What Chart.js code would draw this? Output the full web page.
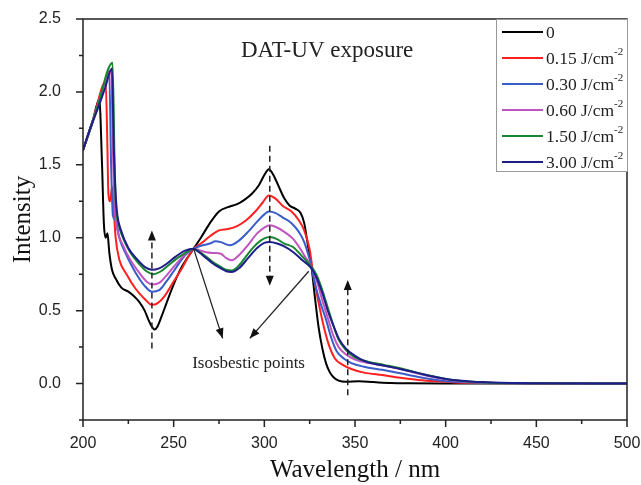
<!DOCTYPE html>
<html>
<head>
<meta charset="utf-8">
<script src="https://cdn.jsdelivr.net/npm/chart.js@4.4.1/dist/chart.umd.min.js"></script>
<style>
  html, body { margin: 0; padding: 0; background: #fff; }
  #wrap { width: 641px; height: 485px; }
</style>
</head>
<body>
<div id="wrap"><canvas id="grafico"></canvas></div>
<script>
const doseLabels = ['0', '0.15 J/cm^-2', '0.30 J/cm^-2', '0.60 J/cm^-2', '1.50 J/cm^-2', '3.00 J/cm^-2'];
const doseColors = ['#000000', '#ff1f1f', '#3a5cc8', '#c055c0', '#17862f', '#1e1e8a'];

const wl0  = [200, 205, 209, 210.5, 211.5, 212.5, 213.5, 214.5, 216, 218, 221, 225, 228, 231, 234, 236, 238, 239.5, 241, 243, 246, 250, 254, 258, 261, 265, 270, 275, 280, 285, 289, 293, 297, 300, 302.5, 305, 308, 311, 314, 317, 320, 322, 324, 326, 328, 330, 332, 334, 336, 338, 341, 345, 352, 360, 370, 380, 400, 500];
const int0 = [1.6, 1.78, 1.95, 1.5, 1.1, 1.0, 1.03, 0.9, 0.78, 0.72, 0.66, 0.63, 0.6, 0.56, 0.5, 0.44, 0.39, 0.37, 0.39, 0.45, 0.55, 0.68, 0.79, 0.87, 0.925, 1.0, 1.1, 1.18, 1.21, 1.23, 1.26, 1.3, 1.36, 1.43, 1.47, 1.43, 1.35, 1.27, 1.22, 1.2, 1.17, 1.1, 0.95, 0.8, 0.58, 0.38, 0.24, 0.14, 0.08, 0.045, 0.02, 0.012, 0.015, 0.01, 0.004, 0.002, 0.001, 0];

const wl1  = [200, 206, 212.5, 213.5, 214, 215, 216, 218, 220, 224, 229, 234, 238, 241, 245, 250, 255, 258.5, 261, 265, 270, 275, 280, 285, 290, 295, 299, 302.5, 306, 310, 315, 319, 322, 325, 327, 330, 333, 336, 339, 343, 348, 355, 365, 375, 385, 395, 405, 420, 450, 500];
const int1 = [1.6, 1.83, 2.07, 1.6, 1.3, 1.25, 1.35, 1.0, 0.85, 0.75, 0.65, 0.58, 0.54, 0.55, 0.6, 0.7, 0.8, 0.88, 0.925, 0.96, 1.01, 1.05, 1.06, 1.08, 1.12, 1.18, 1.24, 1.29, 1.27, 1.22, 1.18, 1.12, 1.05, 0.92, 0.75, 0.55, 0.38, 0.25, 0.17, 0.13, 0.1, 0.075, 0.058, 0.04, 0.025, 0.015, 0.008, 0.004, 0.002, 0];

const wl2  = [200, 208, 214.5, 215.5, 216.5, 218, 220, 224, 229, 234, 238, 242, 246, 250, 255, 258, 261, 265, 270, 273, 276, 281, 286, 291, 296, 300, 302.5, 306, 310, 315, 319, 322, 326, 328, 331, 334, 337, 340, 344, 348, 355, 365, 375, 385, 395, 405, 420, 450, 500];
const int2 = [1.6, 1.9, 2.12, 1.5, 1.15, 1.12, 1.0, 0.88, 0.76, 0.67, 0.63, 0.64, 0.7, 0.77, 0.86, 0.9, 0.925, 0.945, 0.96, 0.975, 0.97, 0.948, 0.98, 1.04, 1.11, 1.16, 1.18, 1.17, 1.14, 1.1, 1.04, 0.97, 0.8, 0.68, 0.55, 0.44, 0.31, 0.22, 0.17, 0.14, 0.115, 0.094, 0.07, 0.045, 0.025, 0.012, 0.005, 0.002, 0];

const wl3  = [200, 208, 215.5, 216.5, 217.5, 219, 222, 226, 231, 235, 238.5, 242, 246, 250, 255, 258, 261, 264, 268, 272, 276, 279, 282, 286, 291, 296, 300, 303, 307, 311, 316, 320, 323, 326, 329, 332, 335, 338, 341, 345, 350, 358, 366, 375, 384, 393, 402, 412, 425, 450, 500];
const int3 = [1.6, 1.9, 2.15, 1.6, 1.2, 1.05, 0.95, 0.85, 0.76, 0.7, 0.68, 0.69, 0.74, 0.8, 0.87, 0.91, 0.925, 0.915, 0.9, 0.895, 0.89, 0.86, 0.845, 0.88, 0.95, 1.03, 1.07, 1.085, 1.07, 1.04, 0.99, 0.92, 0.86, 0.8, 0.7, 0.57, 0.45, 0.33, 0.25, 0.2, 0.165, 0.14, 0.122, 0.1, 0.07, 0.045, 0.025, 0.012, 0.005, 0.002, 0];

const wl4  = [200, 208, 216.3, 217.3, 218, 219.5, 222, 226, 231, 235, 239, 243, 247, 252, 257, 261, 264, 268, 272, 276, 279, 282, 286, 291, 296, 300, 303, 307, 311, 316, 321, 324, 326, 329, 332, 335, 338, 341, 345, 350, 357, 366, 375, 384, 393, 402, 412, 425, 450, 500];
const int4 = [1.6, 1.9, 2.2, 1.6, 1.25, 1.1, 1.0, 0.9, 0.82, 0.77, 0.75, 0.77, 0.81, 0.86, 0.9, 0.925, 0.905, 0.87, 0.83, 0.8, 0.78, 0.775, 0.81, 0.89, 0.96, 0.995, 1.005, 0.99, 0.96, 0.935, 0.87, 0.83, 0.8, 0.74, 0.64, 0.52, 0.4, 0.3, 0.23, 0.18, 0.15, 0.128, 0.105, 0.075, 0.05, 0.028, 0.014, 0.006, 0.002, 0];

const wl5  = [200, 204, 208, 212, 216, 217, 218, 219, 221, 225, 230, 234, 238, 242, 246, 251, 256, 261, 264, 268, 272, 276, 279, 282, 286, 291, 296, 300, 303, 307, 311, 316, 321, 326, 329, 332, 335, 338, 341, 345, 350, 356, 365, 375, 384, 393, 402, 412, 420, 430, 450, 500];
const int5 = [1.6, 1.75, 1.88, 2.02, 2.16, 1.6, 1.3, 1.15, 1.05, 0.93, 0.85, 0.8, 0.78, 0.79, 0.82, 0.87, 0.91, 0.925, 0.9, 0.86, 0.82, 0.79, 0.77, 0.765, 0.79, 0.86, 0.93, 0.965, 0.97, 0.96, 0.94, 0.9, 0.845, 0.79, 0.72, 0.62, 0.5, 0.4, 0.31, 0.24, 0.19, 0.15, 0.125, 0.1, 0.075, 0.048, 0.028, 0.016, 0.01, 0.005, 0.002, 0];

const wavelengths = [wl0, wl1, wl2, wl3, wl4, wl5];
const intensities = [int0, int1, int2, int3, int4, int5];

// Eixos
const xTickLabels = [200, 250, 300, 350, 400, 450, 500];
const yTickLabels = [0.0, 0.5, 1.0, 1.5, 2.0, 2.5];

// Anotações (em unidades dos dados)
const setasTracejadas = [
  { x: 238, de: 0.24, para: 1.05 },
  { x: 303, de: 1.63, para: 0.67 },
  { x: 346, de: -0.08, para: 0.71 }
];
const setasIsosbesticas = [
  { x0: 261, y0: 0.925, x1: 277, y1: 0.31 },
  { x0: 324.5, y0: 0.77, x1: 292, y1: 0.31 }
];
const textoIsosbestico = { x: 291.3, y: 0.137, texto: 'Isosbestic points' };
const tituloInterno = 'DAT-UV exposure';

const datasets = doseLabels.map((rotulo, i) => ({
  label: rotulo,
  data: wavelengths[i].map((w, j) => ({ x: w, y: intensities[i][j] })),
  borderColor: doseColors[i],
  backgroundColor: doseColors[i],
  borderWidth: 2,
  pointRadius: 0,
  cubicInterpolationMode: 'monotone',
  fill: false
})).reverse();

function seta(ctx, x0, y0, x1, y1, tam) {
  const ang = Math.atan2(y1 - y0, x1 - x0);
  ctx.beginPath();
  ctx.moveTo(x1, y1);
  ctx.lineTo(x1 - tam * Math.cos(ang) + tam * 0.4 * Math.sin(ang), y1 - tam * Math.sin(ang) - tam * 0.4 * Math.cos(ang));
  ctx.lineTo(x1 - tam * Math.cos(ang) - tam * 0.4 * Math.sin(ang), y1 - tam * Math.sin(ang) + tam * 0.4 * Math.cos(ang));
  ctx.closePath();
  ctx.fill();
}

const pluginMoldura = {
  id: 'moldura',
  afterDatasetsDraw(chart) {
    const { ctx, chartArea: a, scales: { x, y } } = chart;
    ctx.save();
    ctx.strokeStyle = '#222';
    ctx.fillStyle = '#111';
    ctx.lineWidth = 1.5;
    ctx.strokeRect(a.left, a.top, a.right - a.left, a.bottom - a.top);

    // marcas dos eixos
    ctx.beginPath();
    x.ticks.forEach(t => {
      const px = x.getPixelForValue(t.value);
      const len = xTickLabels.includes(t.value) ? 7 : 4;
      ctx.moveTo(px, a.bottom); ctx.lineTo(px, a.bottom + len);
    });
    y.ticks.forEach(t => {
      const py = y.getPixelForValue(t.value);
      const maior = yTickLabels.some(v => Math.abs(v - t.value) < 1e-6);
      ctx.moveTo(a.left, py); ctx.lineTo(a.left - (maior ? 7 : 4), py);
    });
    ctx.stroke();

    // setas tracejadas
    ctx.lineWidth = 1.5;
    setasTracejadas.forEach(s => {
      const px = x.getPixelForValue(s.x);
      const p0 = y.getPixelForValue(s.de), p1 = y.getPixelForValue(s.para);
      const dir = p1 < p0 ? 1 : -1;
      ctx.setLineDash([6, 4]);
      ctx.beginPath(); ctx.moveTo(px, p0); ctx.lineTo(px, p1 + dir * 8); ctx.stroke();
      ctx.setLineDash([]);
      seta(ctx, px, p0, px, p1, 10);
    });

    // setas dos pontos isosbésticos
    ctx.lineWidth = 1.3;
    setasIsosbesticas.forEach(s => {
      const x0 = x.getPixelForValue(s.x0), y0 = y.getPixelForValue(s.y0);
      const x1 = x.getPixelForValue(s.x1), y1 = y.getPixelForValue(s.y1);
      ctx.beginPath(); ctx.moveTo(x0, y0); ctx.lineTo(x1, y1); ctx.stroke();
      seta(ctx, x0, y0, x1, y1, 10);
    });

    ctx.fillStyle = '#222';
    ctx.textBaseline = 'middle';
    ctx.font = '17px "Liberation Serif"';
    ctx.textAlign = 'center';
    ctx.fillText(textoIsosbestico.texto, x.getPixelForValue(textoIsosbestico.x), y.getPixelForValue(textoIsosbestico.y));

    ctx.font = '23px "Liberation Serif"';
    ctx.textAlign = 'left';
    ctx.fillText(tituloInterno, 241, 51);

    // legenda
    const lx = 496, ly = 19, lw = 132, lh = 153;
    ctx.fillStyle = '#fff';
    ctx.fillRect(lx, ly, lw, lh);
    ctx.strokeStyle = '#999';
    ctx.lineWidth = 1;
    ctx.strokeRect(lx + 0.5, ly + 0.5, lw - 1, lh - 1);
    doseLabels.forEach((rotulo, i) => {
      const cy = ly + 13 + i * 26;
      ctx.strokeStyle = doseColors[i];
      ctx.lineWidth = 2;
      ctx.beginPath(); ctx.moveTo(lx + 6, cy); ctx.lineTo(lx + 47, cy); ctx.stroke();
      const [base, sup] = rotulo.split('^');
      ctx.fillStyle = '#222';
      ctx.font = '17.5px "Liberation Serif"';
      ctx.fillText(base, lx + 50, cy + 1);
      if (sup) {
        const w = ctx.measureText(base).width;
        ctx.font = '11px "Liberation Serif"';
        ctx.fillText(sup, lx + 50 + w, cy - 6);
      }
    });
    ctx.restore();
  }
};

new Chart(document.getElementById('grafico').getContext('2d'), {
  type: 'line',
  data: { datasets },
  options: {
    responsive: true,
    maintainAspectRatio: false,
    animation: false,
    layout: { padding: { top: 19, right: 14, left: 0, bottom: 0 } },
    plugins: { legend: { display: false }, tooltip: { enabled: false } },
    scales: {
      x: {
        type: 'linear', min: 200, max: 500,
        afterFit: s => { s.height = 65; s.paddingLeft = 0; s.paddingRight = 0; },
        grid: { display: false },
        border: { display: false },
        ticks: {
          stepSize: 25, padding: 6, color: '#222', maxRotation: 0, autoSkip: false,
          font: { family: '"Liberation Sans"', size: 16 },
          callback: v => xTickLabels.includes(v) ? String(v) : ''
        },
        title: { display: true, text: 'Wavelength / nm', color: '#111', padding: { top: 0, bottom: 0 },
          font: { family: '"Liberation Serif"', size: 25 } }
      },
      y: {
        type: 'linear', min: -0.25, max: 2.5,
        afterFit: s => { s.width = 83; s.paddingTop = 0; s.paddingBottom = 0; },
        grid: { display: false },
        border: { display: false },
        ticks: {
          stepSize: 0.25, padding: 14, color: '#222', autoSkip: false,
          font: { family: '"Liberation Sans"', size: 16 },
          callback: v => yTickLabels.some(t => Math.abs(t - v) < 1e-6) ? v.toFixed(1) : ''
        },
        title: { display: true, text: 'Intensity', color: '#111', padding: { top: 8, bottom: 0 },
          font: { family: '"Liberation Serif"', size: 25 } }
      }
    }
  },
  plugins: [pluginMoldura]
});
</script>
</body>
</html>
